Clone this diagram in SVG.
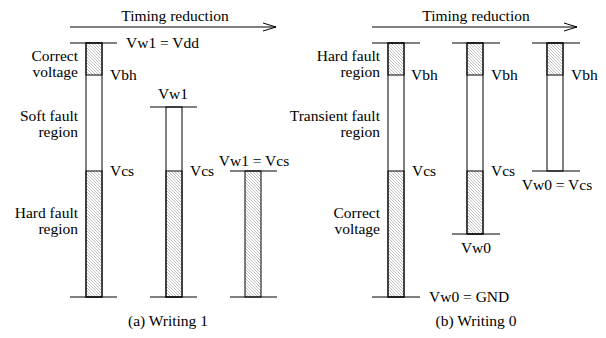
<svg xmlns="http://www.w3.org/2000/svg" width="606" height="338" viewBox="0 0 606 338">
<defs>
<pattern id="hatch" width="3" height="3" patternUnits="userSpaceOnUse">
<path d="M-1,-1 L4,4 M-1,2 L1,4 M2,-1 L4,1" stroke="#999" stroke-width="0.6"/>
</pattern>
<marker id="open" markerWidth="14" markerHeight="10" refX="13" refY="5" orient="auto" markerUnits="userSpaceOnUse">
<path d="M0,1 L13,5 L0,9" fill="none" stroke="#000" stroke-width="1"/>
</marker>
<style>
text{font-family:"Liberation Serif","Times New Roman",serif;font-size:15.5px;fill:#000}
.r{text-anchor:end}
.m{text-anchor:middle}
.bar{fill:#fff;stroke:#000;stroke-width:1}
.h{fill:url(#hatch);stroke:#000;stroke-width:1}
.ln{stroke:#000;stroke-width:1;fill:none}
</style>
</defs>
<rect width="606" height="338" fill="#fff"/>
<g id="connectors">
<line class="ln" x1="70" y1="27" x2="276" y2="27" marker-end="url(#open)"/>
<line class="ln" x1="372" y1="27" x2="577" y2="27" marker-end="url(#open)"/>
</g>
<g id="panel-a">
<text class="m" x="175" y="21">Timing reduction</text>
<g id="a-bar1">
<rect class="bar" x="86" y="43" width="16" height="254"/>
<rect class="h" x="86" y="43" width="16" height="32"/>
<rect class="h" x="86" y="171" width="16" height="126"/>
<line class="ln" x1="70" y1="43" x2="117" y2="43"/>
<line class="ln" x1="70" y1="297" x2="117" y2="297"/>
<text x="126" y="48">Vw1 = Vdd</text>
<text x="110" y="80">Vbh</text>
<text x="110" y="176">Vcs</text>
<text class="r" x="78" y="61">Correct</text>
<text class="r" x="78" y="77">voltage</text>
<text class="r" x="78" y="121">Soft fault</text>
<text class="r" x="78" y="137">region</text>
<text class="r" x="78" y="218">Hard fault</text>
<text class="r" x="78" y="234">region</text>
</g>
<g id="a-bar2">
<rect class="bar" x="166" y="107" width="16" height="190"/>
<rect class="h" x="166" y="171" width="16" height="126"/>
<line class="ln" x1="150" y1="107" x2="197" y2="107"/>
<line class="ln" x1="150" y1="297" x2="197" y2="297"/>
<text class="m" x="173" y="99">Vw1</text>
<text x="190" y="176">Vcs</text>
</g>
<g id="a-bar3">
<rect class="h" x="245" y="171" width="16" height="126"/>
<line class="ln" x1="230" y1="171" x2="277" y2="171"/>
<line class="ln" x1="230" y1="297" x2="277" y2="297"/>
<text class="m" x="254" y="166">Vw1 = Vcs</text>
</g>
<text class="m" x="168" y="326">(a) Writing 1</text>
</g>
<g id="panel-b">
<text class="m" x="476" y="21">Timing reduction</text>
<g id="b-bar1">
<rect class="bar" x="388" y="43" width="16" height="254"/>
<rect class="h" x="388" y="43" width="16" height="32"/>
<rect class="h" x="388" y="171" width="16" height="126"/>
<line class="ln" x1="372" y1="43" x2="420" y2="43"/>
<line class="ln" x1="372" y1="297" x2="420" y2="297"/>
<text x="411" y="80">Vbh</text>
<text x="412" y="176">Vcs</text>
<text x="429" y="302">Vw0 = GND</text>
<text class="r" x="380" y="61">Hard fault</text>
<text class="r" x="380" y="77">region</text>
<text class="r" x="380" y="121">Transient fault</text>
<text class="r" x="380" y="137">region</text>
<text class="r" x="380" y="218">Correct</text>
<text class="r" x="380" y="234">voltage</text>
</g>
<g id="b-bar2">
<rect class="bar" x="467" y="43" width="16" height="191"/>
<rect class="h" x="467" y="43" width="16" height="32"/>
<rect class="h" x="467" y="171" width="16" height="63"/>
<line class="ln" x1="452" y1="43" x2="500" y2="43"/>
<line class="ln" x1="452" y1="234" x2="500" y2="234"/>
<text x="491" y="80">Vbh</text>
<text x="491" y="176">Vcs</text>
<text class="m" x="476" y="253">Vw0</text>
</g>
<g id="b-bar3">
<rect class="bar" x="547" y="43" width="16" height="128"/>
<rect class="h" x="547" y="43" width="16" height="32"/>
<line class="ln" x1="532" y1="43" x2="580" y2="43"/>
<line class="ln" x1="532" y1="171" x2="580" y2="171"/>
<text x="571" y="80">Vbh</text>
<text class="m" x="557" y="190">Vw0 = Vcs</text>
</g>
<text class="m" x="476" y="326">(b) Writing 0</text>
</g>
</svg>
